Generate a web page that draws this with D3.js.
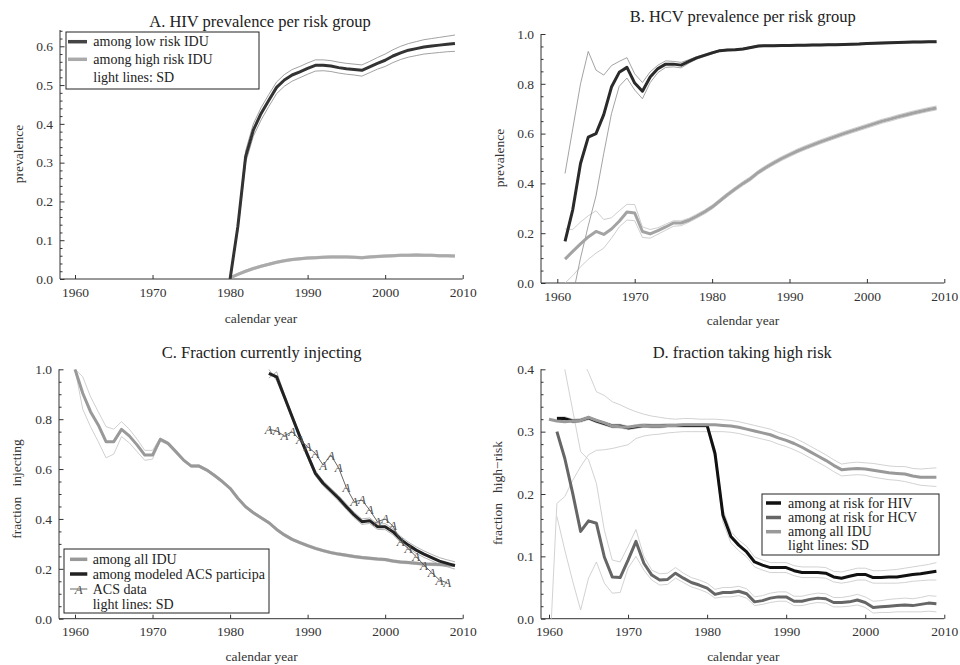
<!DOCTYPE html>
<html>
<head>
<meta charset="utf-8">
<script src="https://cdn.jsdelivr.net/npm/d3@7"></script>
<style>
  html, body { margin: 0; padding: 0; background: #fff; }
  svg { display: block; font-family: "Liberation Serif", "Times New Roman", serif; }
</style>
</head>
<body>
<svg id="chart" width="960" height="665"></svg>
<script>
// ---------- A. HIV prevalence per risk group (1980-2009) ----------
const yearsA = d3.range(1980, 2010);
const hivLow = [0.0, 0.135, 0.315, 0.384, 0.427, 0.461, 0.494, 0.513, 0.526, 0.534,
  0.543, 0.551, 0.551, 0.549, 0.545, 0.542, 0.540, 0.538, 0.547, 0.556,
  0.564, 0.575, 0.583, 0.590, 0.594, 0.598, 0.601, 0.603, 0.605, 0.607];
const hivLowUpper = [0.0, 0.14, 0.33, 0.40, 0.442, 0.476, 0.508, 0.527, 0.540, 0.548,
  0.557, 0.565, 0.565, 0.563, 0.559, 0.556, 0.554, 0.552, 0.561, 0.571,
  0.580, 0.591, 0.600, 0.607, 0.612, 0.617, 0.620, 0.623, 0.626, 0.629];
const hivLowLower = [0.0, 0.125, 0.30, 0.368, 0.41, 0.445, 0.478, 0.497, 0.51, 0.519,
  0.528, 0.536, 0.537, 0.535, 0.531, 0.528, 0.526, 0.523, 0.532, 0.541,
  0.548, 0.558, 0.566, 0.572, 0.576, 0.580, 0.582, 0.584, 0.586, 0.587];
const hivHigh = [0.003, 0.012, 0.020, 0.027, 0.033, 0.038, 0.043, 0.047, 0.050, 0.052,
  0.054, 0.055, 0.056, 0.057, 0.057, 0.057, 0.056, 0.055, 0.057, 0.058,
  0.059, 0.060, 0.061, 0.061, 0.062, 0.061, 0.061, 0.060, 0.060, 0.059];
const hivHighUpper = [0.005, 0.015, 0.023, 0.030, 0.036, 0.041, 0.046, 0.050, 0.053, 0.055,
  0.057, 0.058, 0.059, 0.060, 0.060, 0.060, 0.059, 0.058, 0.060, 0.061,
  0.062, 0.063, 0.064, 0.064, 0.065, 0.064, 0.064, 0.063, 0.063, 0.062];
const hivHighLower = [0.001, 0.009, 0.017, 0.024, 0.030, 0.035, 0.040, 0.044, 0.047, 0.049,
  0.051, 0.052, 0.053, 0.054, 0.054, 0.054, 0.053, 0.052, 0.054, 0.055,
  0.056, 0.057, 0.058, 0.058, 0.059, 0.058, 0.058, 0.057, 0.057, 0.056];

// ---------- B. HCV prevalence per risk group (1961-2009) ----------
const yearsB = d3.range(1961, 2010);
const hcvLow = [0.167, 0.295, 0.48, 0.586, 0.60, 0.676, 0.787, 0.846, 0.866,
  0.803, 0.770, 0.827, 0.861, 0.879, 0.879, 0.875, 0.89, 0.904, 0.914,
  0.924, 0.933, 0.936, 0.937, 0.94, 0.946, 0.952, 0.953, 0.953, 0.954,
  0.954, 0.955, 0.955, 0.956, 0.956, 0.957, 0.957, 0.958, 0.959, 0.960,
  0.962, 0.963, 0.964, 0.965, 0.966, 0.967, 0.968, 0.968, 0.969, 0.969];
const hcvLowUpper = [0.44, 0.62, 0.80, 0.93, 0.855, 0.835, 0.873, 0.89, 0.905,
  0.84, 0.805, 0.848, 0.875, 0.892, 0.89, 0.886, 0.897, 0.909, 0.918,
  0.928, 0.936, 0.939, 0.94, 0.943, 0.949, 0.955, 0.956, 0.956, 0.957,
  0.957, 0.958, 0.958, 0.959, 0.959, 0.960, 0.960, 0.961, 0.962, 0.963,
  0.965, 0.966, 0.967, 0.968, 0.969, 0.970, 0.971, 0.971, 0.972, 0.972];
const hcvLowLower = [-0.2, -0.05, 0.10, 0.23, 0.35, 0.52, 0.68, 0.79, 0.823,
  0.775, 0.74, 0.805, 0.845, 0.866, 0.868, 0.864, 0.883, 0.899, 0.910,
  0.920, 0.930, 0.933, 0.934, 0.937, 0.943, 0.949, 0.950, 0.950, 0.951,
  0.951, 0.952, 0.952, 0.953, 0.953, 0.954, 0.954, 0.955, 0.956, 0.957,
  0.959, 0.960, 0.961, 0.962, 0.963, 0.964, 0.965, 0.965, 0.966, 0.966];
const hcvHigh = [0.096, 0.127, 0.157, 0.185, 0.207, 0.195, 0.217, 0.248, 0.285,
  0.281, 0.207, 0.197, 0.21, 0.225, 0.241, 0.241, 0.252, 0.268, 0.285,
  0.305, 0.33, 0.355, 0.378, 0.40, 0.42, 0.445, 0.465, 0.483, 0.50,
  0.515, 0.53, 0.543, 0.555, 0.567, 0.578, 0.589, 0.60, 0.61, 0.62,
  0.63, 0.64, 0.65, 0.658, 0.667, 0.675, 0.683, 0.69, 0.697, 0.703];
const hcvHighUpper = [0.217, 0.215, 0.245, 0.27, 0.29, 0.255, 0.262, 0.29, 0.316,
  0.315, 0.225, 0.215, 0.222, 0.236, 0.25, 0.25, 0.26, 0.276, 0.293,
  0.313, 0.338, 0.363, 0.386, 0.408, 0.428, 0.453, 0.473, 0.491, 0.508,
  0.523, 0.538, 0.551, 0.563, 0.575, 0.586, 0.597, 0.608, 0.618, 0.628,
  0.638, 0.648, 0.658, 0.666, 0.675, 0.683, 0.691, 0.698, 0.705, 0.711];
const hcvHighLower = [0.0, 0.03, 0.065, 0.095, 0.12, 0.14, 0.18, 0.225, 0.253,
  0.25, 0.183, 0.18, 0.196, 0.212, 0.228, 0.23, 0.244, 0.26, 0.277,
  0.297, 0.322, 0.347, 0.37, 0.392, 0.412, 0.437, 0.457, 0.475, 0.492,
  0.507, 0.522, 0.535, 0.547, 0.559, 0.57, 0.581, 0.592, 0.602, 0.612,
  0.622, 0.632, 0.642, 0.65, 0.659, 0.667, 0.675, 0.682, 0.689, 0.695];

// ---------- C. Fraction currently injecting ----------
const yearsC = d3.range(1960, 2010);
const injAll = [1.0, 0.904, 0.83, 0.777, 0.71, 0.71, 0.759, 0.733, 0.697, 0.656,
  0.656, 0.719, 0.703, 0.67, 0.636, 0.612, 0.612, 0.596, 0.574, 0.55,
  0.523, 0.483, 0.449, 0.425, 0.405, 0.385, 0.358, 0.336, 0.318, 0.305,
  0.293, 0.282, 0.273, 0.265, 0.259, 0.254, 0.249, 0.245, 0.242, 0.239,
  0.237, 0.231, 0.227, 0.225, 0.222, 0.219, 0.218, 0.217, 0.215, 0.214];
const injAllUpper = [1.0, 0.97, 0.89, 0.83, 0.77, 0.76, 0.79, 0.76, 0.72, 0.675,
  0.675, 0.725, 0.708, 0.675, 0.641, 0.617, 0.617, 0.601, 0.579, 0.555,
  0.528, 0.488, 0.454, 0.43, 0.41, 0.39, 0.363, 0.341, 0.323, 0.31,
  0.298, 0.287, 0.278, 0.27, 0.264, 0.259, 0.254, 0.25, 0.247, 0.244,
  0.242, 0.236, 0.232, 0.23, 0.227, 0.224, 0.223, 0.222, 0.22, 0.219];
const injAllLower = [1.0, 0.84, 0.77, 0.71, 0.645, 0.66, 0.73, 0.705, 0.67, 0.635,
  0.64, 0.712, 0.698, 0.665, 0.631, 0.607, 0.607, 0.591, 0.569, 0.545,
  0.518, 0.478, 0.444, 0.42, 0.40, 0.38, 0.353, 0.331, 0.313, 0.30,
  0.288, 0.277, 0.268, 0.26, 0.254, 0.249, 0.244, 0.24, 0.237, 0.234,
  0.232, 0.226, 0.222, 0.22, 0.217, 0.214, 0.213, 0.212, 0.21, 0.209];
const yearsCacs = d3.range(1985, 2010);
const injAcs = [0.984, 0.97, 0.89, 0.81, 0.73, 0.656, 0.583, 0.543, 0.513, 0.483,
  0.449, 0.416, 0.389, 0.393, 0.369, 0.369, 0.349, 0.318, 0.295, 0.275,
  0.259, 0.245, 0.231, 0.222, 0.213];
const injAcsUpper = [0.965, 0.99, 0.90, 0.82, 0.74, 0.666, 0.593, 0.553, 0.523, 0.494,
  0.46, 0.427, 0.40, 0.404, 0.38, 0.381, 0.361, 0.33, 0.307, 0.288,
  0.272, 0.258, 0.245, 0.236, 0.228];
const injAcsLower = [1.0, 0.955, 0.88, 0.80, 0.72, 0.646, 0.573, 0.533, 0.503, 0.472,
  0.438, 0.405, 0.378, 0.382, 0.358, 0.357, 0.337, 0.306, 0.283, 0.262,
  0.246, 0.232, 0.217, 0.208, 0.199];
const yearsAcsData = d3.range(1985, 2009);
const acsData = [0.759, 0.753, 0.733, 0.75, 0.717, 0.69, 0.663, 0.616, 0.656, 0.605,
  0.525, 0.469, 0.476, 0.436, 0.389, 0.40, 0.372, 0.31, 0.28, 0.249,
  0.215, 0.185, 0.155, 0.144];

// ---------- D. fraction taking high risk ----------
const yearsD = d3.range(1961, 2010);
const riskHiv = [0.321, 0.321, 0.317, 0.318, 0.322, 0.317, 0.313, 0.309, 0.309,
  0.306, 0.308, 0.31, 0.309, 0.309, 0.31, 0.31, 0.31, 0.31, 0.31,
  0.31, 0.265, 0.166, 0.132, 0.118, 0.107, 0.091, 0.086, 0.082, 0.082,
  0.082, 0.077, 0.074, 0.074, 0.074, 0.073, 0.067, 0.065, 0.068, 0.071,
  0.071, 0.066, 0.066, 0.067, 0.067, 0.069, 0.071, 0.072, 0.074, 0.076];
const riskHivUpper = [0.324, 0.324, 0.32, 0.321, 0.325, 0.32, 0.316, 0.312, 0.312,
  0.309, 0.311, 0.313, 0.312, 0.312, 0.313, 0.313, 0.313, 0.313, 0.313,
  0.313, 0.272, 0.175, 0.14, 0.126, 0.116, 0.099, 0.094, 0.09, 0.09,
  0.09, 0.085, 0.083, 0.083, 0.083, 0.082, 0.076, 0.075, 0.078, 0.081,
  0.081, 0.077, 0.077, 0.078, 0.079, 0.081, 0.083, 0.085, 0.087, 0.09];
const riskHivLower = [0.318, 0.318, 0.314, 0.315, 0.319, 0.314, 0.31, 0.306, 0.306,
  0.303, 0.305, 0.307, 0.306, 0.306, 0.307, 0.307, 0.307, 0.307, 0.307,
  0.307, 0.255, 0.155, 0.122, 0.109, 0.099, 0.083, 0.078, 0.074, 0.074,
  0.074, 0.069, 0.066, 0.066, 0.066, 0.065, 0.059, 0.057, 0.059, 0.062,
  0.062, 0.057, 0.057, 0.057, 0.057, 0.058, 0.06, 0.061, 0.062, 0.062];
const riskHcv = [0.30, 0.257, 0.201, 0.14, 0.157, 0.153, 0.099, 0.067, 0.066,
  0.094, 0.124, 0.089, 0.07, 0.062, 0.063, 0.073, 0.065, 0.058, 0.054,
  0.049, 0.039, 0.042, 0.042, 0.044, 0.04, 0.027, 0.029, 0.033, 0.035,
  0.035, 0.028, 0.028, 0.031, 0.033, 0.032, 0.026, 0.026, 0.027, 0.030,
  0.026, 0.018, 0.019, 0.02, 0.021, 0.022, 0.021, 0.023, 0.025, 0.024];
const riskHcvUpper = [0.55, 0.40, 0.334, 0.268, 0.255, 0.217, 0.142, 0.094, 0.091,
  0.116, 0.143, 0.10, 0.078, 0.072, 0.073, 0.082, 0.073, 0.066, 0.062,
  0.057, 0.047, 0.05, 0.05, 0.052, 0.048, 0.035, 0.037, 0.041, 0.043,
  0.043, 0.036, 0.036, 0.039, 0.041, 0.04, 0.034, 0.034, 0.036, 0.039,
  0.035, 0.028, 0.029, 0.031, 0.032, 0.033, 0.032, 0.034, 0.037, 0.036];
const riskHcvLower = [0.164, 0.11, 0.06, 0.014, 0.065, 0.091, 0.057, 0.041, 0.042,
  0.081, 0.10, 0.078, 0.062, 0.054, 0.055, 0.065, 0.058, 0.051, 0.047,
  0.042, 0.033, 0.035, 0.035, 0.037, 0.033, 0.021, 0.023, 0.026, 0.028,
  0.028, 0.021, 0.021, 0.024, 0.026, 0.025, 0.019, 0.019, 0.02, 0.022,
  0.018, 0.009, 0.01, 0.01, 0.011, 0.011, 0.011, 0.011, 0.012, 0.011];
const yearsDall = d3.range(1960, 2010);
const riskAll = [0.32, 0.317, 0.316, 0.317, 0.318, 0.323, 0.318, 0.314, 0.309, 0.308,
  0.307, 0.309, 0.31, 0.309, 0.309, 0.31, 0.31, 0.311, 0.311, 0.311,
  0.311, 0.311, 0.31, 0.309, 0.307, 0.304, 0.301, 0.298, 0.295, 0.29,
  0.286, 0.281, 0.275, 0.268, 0.261, 0.254, 0.246, 0.239, 0.24, 0.241,
  0.24, 0.238, 0.236, 0.234, 0.233, 0.232, 0.229, 0.227, 0.227, 0.227];
const riskAllUpper = [0.80, 0.62, 0.52, 0.46, 0.42, 0.395, 0.364, 0.358, 0.348, 0.343,
  0.337, 0.332, 0.328, 0.325, 0.323, 0.321, 0.32, 0.321, 0.321, 0.32,
  0.32, 0.32, 0.319, 0.318, 0.316, 0.313, 0.31, 0.307, 0.304, 0.299,
  0.295, 0.29, 0.284, 0.277, 0.27, 0.263, 0.255, 0.248, 0.25, 0.251,
  0.25, 0.249, 0.247, 0.245, 0.244, 0.244, 0.241, 0.24, 0.241, 0.242];
const riskAllLower = [-0.08, 0.185, 0.196, 0.222, 0.244, 0.263, 0.27, 0.271, 0.273, 0.276,
  0.279, 0.289, 0.293, 0.295, 0.296, 0.298, 0.299, 0.30, 0.30, 0.30,
  0.30, 0.30, 0.30, 0.299, 0.297, 0.294, 0.291, 0.288, 0.285, 0.28,
  0.276, 0.271, 0.265, 0.258, 0.251, 0.244, 0.236, 0.229, 0.23, 0.231,
  0.23, 0.227, 0.225, 0.223, 0.222, 0.22, 0.217, 0.214, 0.213, 0.212];

const xTickYears = [1960, 1970, 1980, 1990, 2000, 2010];

// ---------- drawing ----------
const svg = d3.select("#chart");
const defs = svg.append("defs");
const axisColor = "#333";
const zip = (xs, ys) => xs.map((v, i) => [v, ys[i]]);

function makePanel(cfg) {
  const g = svg.append("g");
  const x = d3.scaleLinear().domain([1960, 2010]).range([cfg.x1960, cfg.x2010]);
  const y = d3.scaleLinear().domain([0, cfg.yMax]).range([cfg.yBottom, cfg.yTop]);

  defs.append("clipPath").attr("id", "clip-" + cfg.key)
    .append("rect")
    .attr("x", cfg.x0).attr("y", cfg.yTop)
    .attr("width", x(2010) + 3 - cfg.x0)
    .attr("height", cfg.yBottom - cfg.yTop);

  // axes
  const xAxis = d3.axisBottom(x).tickValues(xTickYears).tickFormat(d3.format("d"))
    .tickSizeInner(-4).tickSizeOuter(0).tickPadding(8);
  const gx = g.append("g").attr("transform", `translate(0,${cfg.yBottom})`).call(xAxis);
  gx.select(".domain").remove();
  gx.selectAll(".tick line").attr("stroke", axisColor);
  gx.selectAll(".tick text").attr("fill", axisColor)
    .style("font-size", "13.5px").style("font-family", "Liberation Serif, serif");

  const majors = d3.range(0, cfg.yMax + 1e-9, cfg.major);
  const minors = d3.range(0, cfg.yMax + 1e-9, cfg.minor)
    .filter(v => Math.abs(v / cfg.major - Math.round(v / cfg.major)) > 1e-6);
  const yMinor = d3.axisLeft(y).tickValues(minors).tickFormat("")
    .tickSizeInner(-2.5).tickSizeOuter(0);
  const gym = g.append("g").attr("transform", `translate(${cfg.x0},0)`).call(yMinor);
  gym.select(".domain").remove();
  gym.selectAll(".tick line").attr("stroke", axisColor);

  const yAxis = d3.axisLeft(y).tickValues(majors).tickFormat(d3.format(".1f"))
    .tickSizeInner(-4.5).tickSizeOuter(0).tickPadding(7);
  const gy = g.append("g").attr("transform", `translate(${cfg.x0},0)`).call(yAxis);
  gy.select(".domain").remove();
  gy.selectAll(".tick line").attr("stroke", axisColor);
  gy.selectAll(".tick text").attr("fill", axisColor)
    .style("font-size", "13.5px").style("font-family", "Liberation Serif, serif");

  // spines
  g.append("line").attr("x1", cfg.x0).attr("x2", x(2010))
    .attr("y1", cfg.yBottom).attr("y2", cfg.yBottom)
    .attr("stroke", axisColor).attr("stroke-width", 1);
  g.append("line").attr("x1", cfg.x0).attr("x2", cfg.x0)
    .attr("y1", cfg.yBottom).attr("y2", cfg.yTop)
    .attr("stroke", axisColor).attr("stroke-width", 1);

  // titles
  g.append("text").attr("x", cfg.titleX).attr("y", cfg.titleY)
    .attr("text-anchor", "middle").attr("fill", "#222")
    .style("font-size", "16.5px").text(cfg.title);
  g.append("text").attr("x", cfg.xlabX).attr("y", cfg.xlabY)
    .attr("text-anchor", "middle").attr("fill", "#333")
    .style("font-size", "13.5px").text("calendar year");
  g.append("text")
    .attr("transform", `translate(${cfg.ylabX},${cfg.ylabY}) rotate(-90)`)
    .attr("text-anchor", "middle").attr("fill", "#333")
    .style("font-size", "13.5px").style("white-space", "pre")
    .text(cfg.ylab);

  const plot = g.append("g").attr("clip-path", `url(#clip-${cfg.key})`);
  const line = d3.line().x(d => x(d[0])).y(d => y(d[1]));
  const draw = (pts, color, width) => plot.append("path")
    .datum(pts).attr("d", line).attr("fill", "none")
    .attr("stroke", color).attr("stroke-width", width)
    .attr("stroke-linejoin", "round").attr("stroke-linecap", "butt");
  return { g, x, y, plot, draw };
}

function legend(box, rows) {
  const lg = svg.append("g");
  lg.append("rect").attr("x", box.x).attr("y", box.y)
    .attr("width", box.w).attr("height", box.h)
    .attr("fill", "#fff").attr("stroke", "#222").attr("stroke-width", 1);
  rows.forEach((r, i) => {
    const cy = box.rows[i];
    if (r.color) {
      lg.append("line").attr("x1", box.sx0).attr("x2", box.sx1)
        .attr("y1", cy).attr("y2", cy)
        .attr("stroke", r.color).attr("stroke-width", r.width || 3.5);
    }
    if (r.marker) {
      lg.append("text").attr("x", (box.sx0 + box.sx1) / 2).attr("y", cy + 4.5)
        .attr("text-anchor", "middle").attr("fill", "#555")
        .style("font-size", "13px").style("font-style", "italic").text("A");
    }
    lg.append("text").attr("x", box.tx).attr("y", cy + 4.5)
      .attr("fill", "#222").style("font-size", "14px").style("white-space", "pre")
      .text(r.label);
  });
}

// Panel A
const pA = makePanel({ key: "A", x0: 60, x1960: 75, x2010: 462.7, yBottom: 279, yTop: 30,
  yMax: 0.642, major: 0.1, minor: 0.02, title: "A. HIV prevalence per risk group",
  titleX: 260, titleY: 26.5, xlabX: 261, xlabY: 323, ylab: "prevalence", ylabX: 23, ylabY: 154 });
pA.draw(zip(yearsA, hivLowUpper), "#8a8a8a", 0.8);
pA.draw(zip(yearsA, hivLowLower), "#8a8a8a", 0.8);
pA.draw(zip(yearsA, hivHighUpper), "#c4c4c4", 0.8);
pA.draw(zip(yearsA, hivHighLower), "#c4c4c4", 0.8);
pA.draw(zip(yearsA, hivHigh), "#aaaaaa", 3);
pA.draw(zip(yearsA, hivLow), "#333333", 3);
legend({ x: 66, y: 32, w: 193, h: 57, sx0: 68, sx1: 87, tx: 93.3, rows: [41.7, 59.3, 77.3] }, [
  { label: "among low risk IDU", color: "#444" },
  { label: "among high risk IDU", color: "#aaa" },
  { label: "light lines: SD" }
]);

// Panel B
const pB = makePanel({ key: "B", x0: 541, x1960: 557.3, x2010: 944.3, yBottom: 283, yTop: 34,
  yMax: 1, major: 0.2, minor: 0.05, title: "B. HCV prevalence per risk group",
  titleX: 742.7, titleY: 21.5, xlabX: 743, xlabY: 325, ylab: "prevalence", ylabX: 504, ylabY: 158 });
pB.draw(zip(yearsB, hcvHighUpper), "#c2c2c2", 0.8);
pB.draw(zip(yearsB, hcvHighLower), "#c2c2c2", 0.8);
pB.draw(zip(yearsB, hcvLowUpper), "#8c8c8c", 0.8);
pB.draw(zip(yearsB, hcvLowLower), "#8c8c8c", 0.8);
pB.draw(zip(yearsB, hcvHigh), "#a3a3a3", 3);
pB.draw(zip(yearsB, hcvLow), "#2a2a2a", 3);

// Panel C
const pC = makePanel({ key: "C", x0: 59, x1960: 75, x2010: 462.7, yBottom: 618.7, yTop: 369.3,
  yMax: 1, major: 0.2, minor: 0.05, title: "C. Fraction currently injecting",
  titleX: 261.7, titleY: 358.3, xlabX: 261.7, xlabY: 660.7, ylab: "fraction   injecting",
  ylabX: 21, ylabY: 489 });
pC.draw(zip(yearsC, injAllUpper), "#c4c4c4", 0.8);
pC.draw(zip(yearsC, injAllLower), "#c4c4c4", 0.8);
pC.draw(zip(yearsCacs, injAcsUpper), "#a0a0a0", 0.8);
pC.draw(zip(yearsCacs, injAcsLower), "#a0a0a0", 0.8);
pC.draw(zip(yearsC, injAll), "#999999", 3);
pC.draw(zip(yearsCacs, injAcs), "#222222", 3);
pC.draw(zip(yearsAcsData, acsData), "#555555", 0.9);
pC.plot.selectAll("text.acs").data(zip(yearsAcsData, acsData)).join("text")
  .attr("class", "acs")
  .attr("x", d => pC.x(d[0])).attr("y", d => pC.y(d[1]) + 4.5)
  .attr("text-anchor", "middle").attr("fill", "#555")
  .style("font-size", "13px").style("font-style", "italic").text("A");
legend({ x: 64, y: 549, w: 205, h: 64, sx0: 70, sx1: 87.3, tx: 92.7, rows: [559.3, 574, 589, 604] }, [
  { label: "among all IDU", color: "#999" },
  { label: "among modeled ACS participa", color: "#222" },
  { label: "ACS data", color: "#555", width: 0.9, marker: true },
  { label: "light lines: SD" }
]);

// Panel D
const pD = makePanel({ key: "D", x0: 541, x1960: 549, x2010: 944.3, yBottom: 618.7, yTop: 369.3,
  yMax: 0.4, major: 0.1, minor: 0.02, title: "D. fraction taking high risk",
  titleX: 742.3, titleY: 358.3, xlabX: 743.3, xlabY: 660.7, ylab: "fraction   high\u2212risk",
  ylabX: 502, ylabY: 493 });
[riskAllUpper, riskAllLower].forEach(s => pD.draw(zip(yearsDall, s), "#c6c6c6", 0.8));
[riskHivUpper, riskHivLower, riskHcvUpper, riskHcvLower]
  .forEach(s => pD.draw(zip(yearsD, s), "#c6c6c6", 0.8));
pD.draw(zip(yearsD, riskHiv), "#111111", 3);
pD.draw(zip(yearsD, riskHcv), "#666666", 3);
pD.draw(zip(yearsDall, riskAll), "#999999", 3);
legend({ x: 762, y: 494, w: 177, h: 61, sx0: 766, sx1: 781, tx: 788, rows: [503, 517.5, 531.7, 545] }, [
  { label: "among at risk for HIV", color: "#111" },
  { label: "among at risk for HCV", color: "#666" },
  { label: "among all IDU", color: "#999" },
  { label: "light lines: SD" }
]);
</script>
</body>
</html>
